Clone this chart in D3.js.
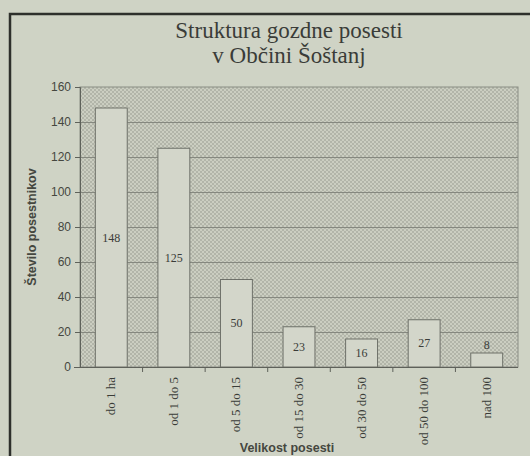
<!DOCTYPE html>
<html>
<head>
<meta charset="utf-8">
<script src="https://cdn.jsdelivr.net/npm/d3@7"></script>
<style>
  body { margin: 0; background: #cfd3c5; }
  svg { display: block; }
</style>
</head>
<body>
<div id="chart"></div>
<script>
// data
var categories = ["do 1 ha", "od 1 do 5", "od 5 do 15", "od 15 do 30", "od 30 do 50", "od 50 do 100", "nad 100"];
var values = [148, 125, 50, 23, 16, 27, 8];
var yTicks = [0, 20, 40, 60, 80, 100, 120, 140, 160];

var W = 530, H = 456;
var margin = { top: 87, right: 12, bottom: 89, left: 80 };
var width = W - margin.left - margin.right;
var height = H - margin.top - margin.bottom;

var svg = d3.select("#chart").append("svg")
  .attr("width", W)
  .attr("height", H);

// hatch pattern for plot background
var defs = svg.append("defs");
var pat = defs.append("pattern")
  .attr("id", "hatch")
  .attr("patternUnits", "userSpaceOnUse")
  .attr("width", 4)
  .attr("height", 4);
pat.append("rect").attr("width", 4).attr("height", 4).attr("fill", "#cbcec1");
pat.append("rect").attr("x", 0).attr("y", 0).attr("width", 2).attr("height", 2).attr("fill", "#b2b5a9");
pat.append("rect").attr("x", 2).attr("y", 2).attr("width", 2).attr("height", 2).attr("fill", "#b2b5a9");

// outer frame (only left and top visible)
svg.append("path")
  .attr("d", "M10," + H + " L10,14 L" + W + ",14")
  .attr("fill", "none")
  .attr("stroke", "#2e302c")
  .attr("stroke-width", 2.5);

// title
var title = svg.append("text")
  .attr("text-anchor", "middle")
  .attr("font-family", "Liberation Serif, Times New Roman, serif")
  .attr("font-size", 23)
  .attr("fill", "#3a3c38");
title.append("tspan").attr("x", 289).attr("y", 38).text("Struktura gozdne posesti");
title.append("tspan").attr("x", 289).attr("y", 63).text("v Občini Šoštanj");

var g = svg.append("g")
  .attr("transform", "translate(" + margin.left + "," + margin.top + ")");

var x = d3.scaleBand()
  .domain(categories)
  .range([0, width])
  .paddingInner(0.49)
  .paddingOuter(0.245);

var y = d3.scaleLinear().domain([0, 160]).range([height, 0]);

// plot area
g.append("rect")
  .attr("x", 0).attr("y", 0)
  .attr("width", width).attr("height", height)
  .attr("fill", "url(#hatch)")
  .attr("stroke", "#8a8d84")
  .attr("stroke-width", 1);

// gridlines
g.selectAll(".grid")
  .data(yTicks.slice(1, -1))
  .enter().append("line")
  .attr("class", "grid")
  .attr("x1", 0).attr("x2", width)
  .attr("y1", function(d) { return y(d) + 0.5; })
  .attr("y2", function(d) { return y(d) + 0.5; })
  .attr("stroke", "#85887f")
  .attr("stroke-width", 1);

// bars
g.selectAll(".bar")
  .data(values)
  .enter().append("rect")
  .attr("class", "bar")
  .attr("x", function(d, i) { return x(categories[i]); })
  .attr("y", function(d) { return y(d); })
  .attr("width", x.bandwidth())
  .attr("height", function(d) { return height - y(d); })
  .attr("fill", "#d3d6ca")
  .attr("stroke", "#6e7169")
  .attr("stroke-width", 1);

// value labels
g.selectAll(".val")
  .data(values)
  .enter().append("text")
  .attr("class", "val")
  .attr("x", function(d, i) { return x(categories[i]) + x.bandwidth() / 2; })
  .attr("y", function(d) {
    var h = height - y(d);
    return h < 20 ? y(d) - 4 : y(d) + h / 2 + 4;
  })
  .attr("text-anchor", "middle")
  .attr("font-family", "Liberation Serif, Times New Roman, serif")
  .attr("font-size", 12)
  .attr("fill", "#3a3c38")
  .text(function(d) { return d; });

// y axis
var yAxis = g.append("g")
  .call(d3.axisLeft(y).tickValues(yTicks).tickSize(5).tickPadding(4));
yAxis.select(".domain").attr("stroke", "#5e615a");
yAxis.selectAll(".tick line").attr("stroke", "#5e615a");
yAxis.selectAll("text")
  .attr("font-family", "Liberation Sans, Arial, sans-serif")
  .attr("font-size", 12)
  .attr("fill", "#45473f");

// x axis: ticks at category boundaries
var xAxis = g.append("g")
  .attr("transform", "translate(0," + height + ")");
xAxis.append("line")
  .attr("x1", -6).attr("x2", width)
  .attr("y1", 0.5).attr("y2", 0.5)
  .attr("stroke", "#5e615a");
xAxis.selectAll(".xt")
  .data(categories.slice(1))
  .enter().append("line")
  .attr("class", "xt")
  .attr("x1", function(d) { return x(d) - x.step() * x.paddingInner() / 2; })
  .attr("x2", function(d) { return x(d) - x.step() * x.paddingInner() / 2; })
  .attr("y1", 0).attr("y2", 5)
  .attr("stroke", "#5e615a");
xAxis.selectAll(".xl")
  .data(categories)
  .enter().append("text")
  .attr("class", "xl")
  .attr("transform", function(d) {
    return "translate(" + (x(d) + x.bandwidth() / 2 + 4) + ",10) rotate(-90)";
  })
  .attr("text-anchor", "end")
  .attr("font-family", "Liberation Serif, Times New Roman, serif")
  .attr("font-size", 13)
  .attr("fill", "#3a3c38")
  .text(function(d) { return d; });

// axis titles
svg.append("text")
  .attr("transform", "translate(36," + (margin.top + height / 2) + ") rotate(-90)")
  .attr("text-anchor", "middle")
  .attr("font-family", "Liberation Sans, Arial, sans-serif")
  .attr("font-weight", "bold")
  .attr("font-size", 12.5)
  .attr("fill", "#45473f")
  .text("Število posestnikov");

svg.append("text")
  .attr("x", 287)
  .attr("y", 452)
  .attr("text-anchor", "middle")
  .attr("font-family", "Liberation Sans, Arial, sans-serif")
  .attr("font-weight", "bold")
  .attr("font-size", 12.5)
  .attr("fill", "#45473f")
  .text("Velikost posesti");
</script>
</body>
</html>
